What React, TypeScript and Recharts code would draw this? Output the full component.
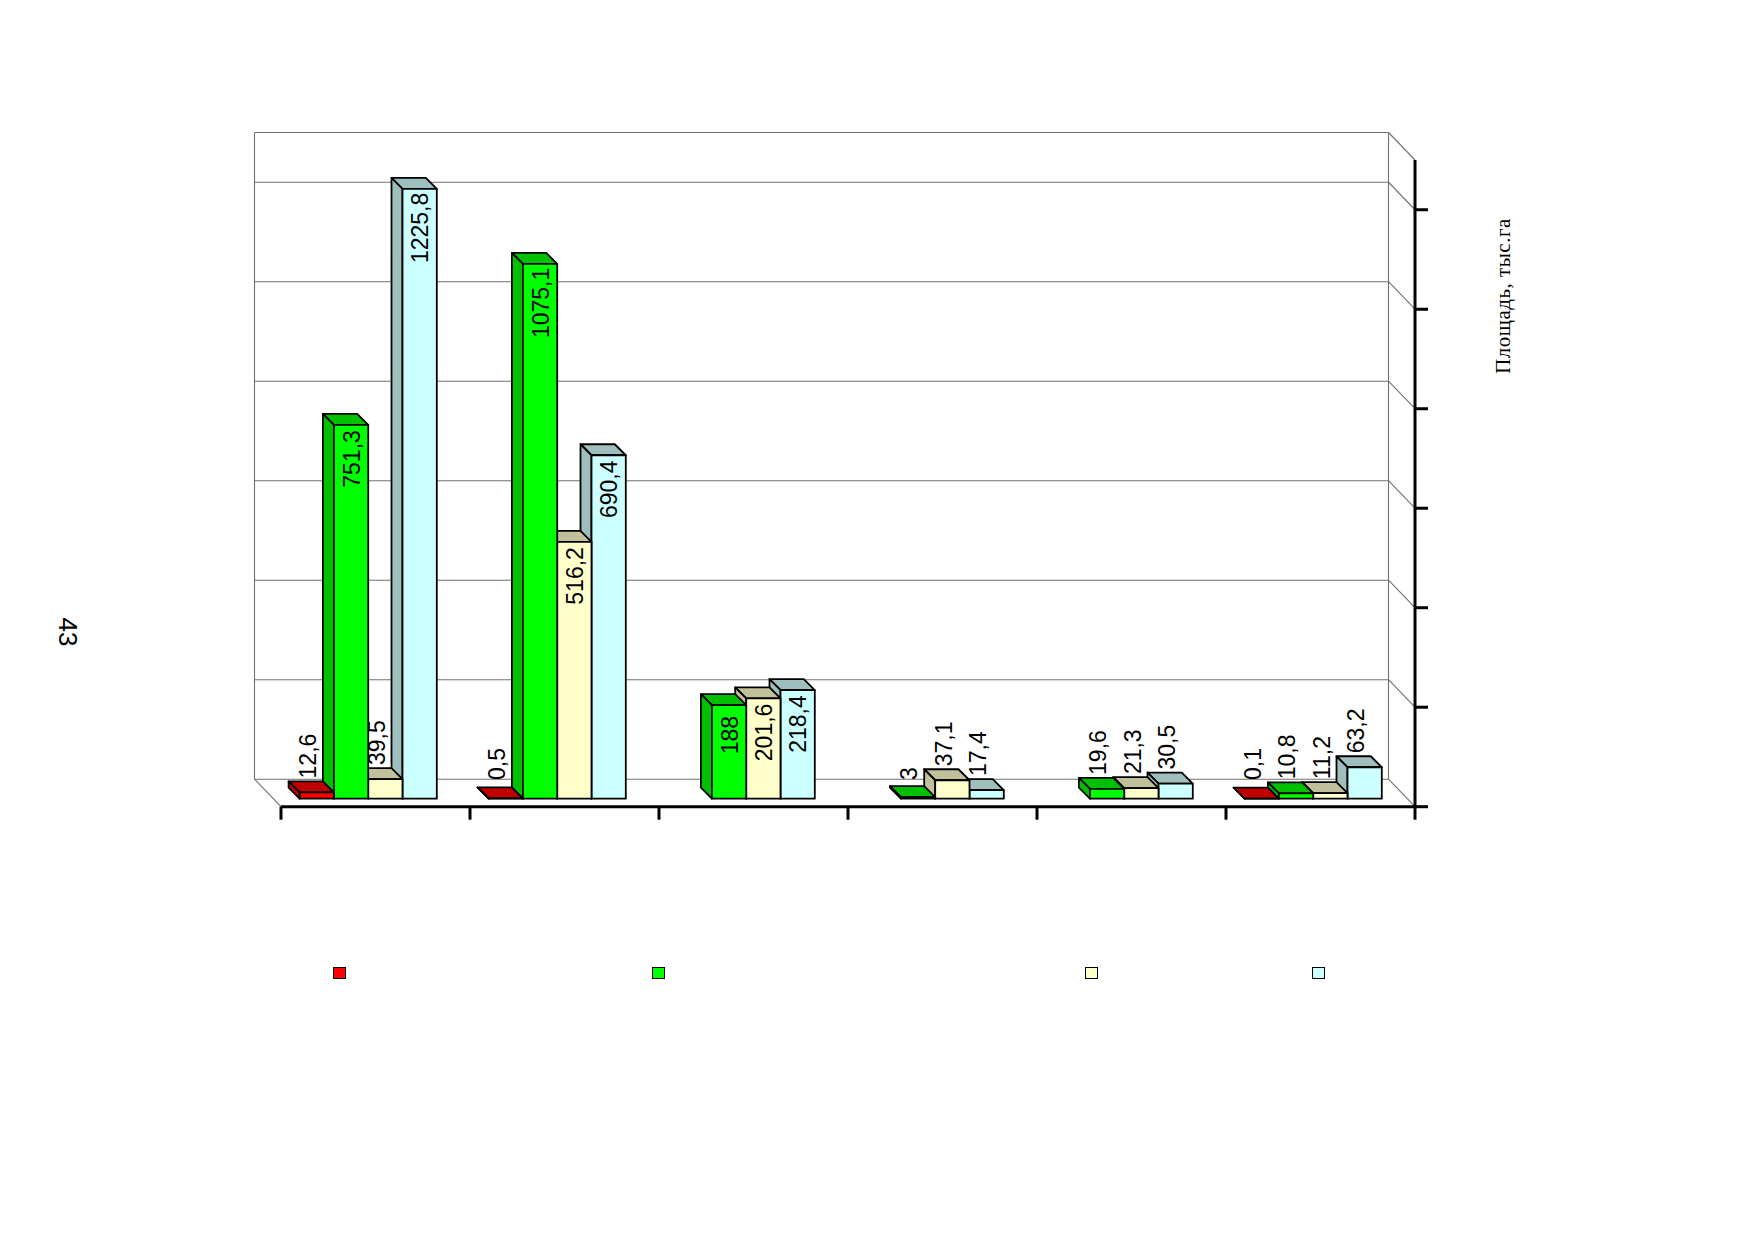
import React from "react";
import { BarChart, Bar, XAxis, YAxis, CartesianGrid, Legend, LabelList } from "recharts";

const categories = ["1", "2", "3", "4", "5", "6"];
const series1 = [12.6, 0.5, null, null, null, 0.1];
const series2 = [751.3, 1075.1, 188, 3, 19.6, 10.8];
const series3 = [39.5, 516.2, 201.6, 37.1, 21.3, 11.2];
const series4 = [1225.8, 690.4, 218.4, 17.4, 30.5, 63.2];
const yTicks = [0, 200, 400, 600, 800, 1000, 1200];
const gridValues = [0, 200, 400, 600, 800, 1000, 1200, 1300];
const Y_MAX = 1300;

const data = categories.map((c, i) => ({
  c, s1: series1[i], s2: series2[i], s3: series3[i], s4: series4[i],
}));

const seriesDefs = [
  { key: "s1", front: "#FF0000", dark: "#C00000", legendX: 333 },
  { key: "s2", front: "#00FF00", dark: "#00C000", legendX: 652 },
  { key: "s3", front: "#FFFFCC", dark: "#C0C09A", legendX: 1085 },
  { key: "s4", front: "#CCFFFF", dark: "#9FBFBF", legendX: 1312 },
];
// drawn right to left so that each bar's face hides its right neighbour's side
const drawOrder = [...seriesDefs].reverse();

const SHIFT_X = 7.5;
const SHIFT_Y = 8;
const DEPTH = 11;
const WALL_X = 26.5;
const WALL_Y = 27.5;
const GRID = "#707070";
const FS = 23;
const TICK = 13;

const make3D = (front: string, dark: string) => (p: any) => {
  const { x, y, width, height } = p;
  if (width == null || height == null) return <g />;
  const x0 = x - SHIFT_X, y0 = y - SHIFT_Y, x1 = x0 + width, y1 = y0 + height;
  return (
    <g stroke="#000" strokeWidth={1.8} strokeLinejoin="round">
      <polygon fill={dark} points={`${x0},${y0} ${x0 - DEPTH},${y0 - DEPTH} ${x1 - DEPTH},${y0 - DEPTH} ${x1},${y0}`} />
      <polygon fill={dark} points={`${x0},${y0} ${x0 - DEPTH},${y0 - DEPTH} ${x0 - DEPTH},${y1 - DEPTH} ${x0},${y1}`} />
      <rect x={x0} y={y0} width={width} height={height} fill={front} />
    </g>
  );
};

const valueLabel = (p: any) => {
  const { x, y, width, value } = p;
  if (value == null) return <g />;
  const txt = String(value).replace(".", ",");
  const x0 = x - SHIFT_X, y0 = y - SHIFT_Y;
  const inside = value >= 150;
  const cx = inside ? x0 + width / 2 + 0.5 : x0 + width / 2 - 9;
  const baseX = cx + FS * 0.36;
  const pos = inside ? y0 + (txt.length === 6 ? 39 : 24 + 2 * txt.length) : Math.min(y0 - DEPTH - 3, 780);
  return (
    <text
      x={baseX}
      y={pos}
      transform={`rotate(-90 ${baseX} ${pos})`}
      textAnchor={inside ? "middle" : "start"}
      fontFamily="'Liberation Sans', Arial, sans-serif"
      fontSize={FS}
      fill="#000"
    >
      {txt}
    </text>
  );
};

const hLine = (p: any) => {
  const { x1, x2, y1, index } = p;
  const yb = y1 - WALL_Y;
  return (
    <g stroke={GRID} strokeWidth={1.1} key={`h${index}`}>
      <line x1={x1 - WALL_X} x2={x2 - WALL_X} y1={yb} y2={yb} />
      <line x1={x2 - WALL_X} x2={x2} y1={yb} y2={y1} />
      {y1 > 800 ? <line x1={x1 - WALL_X} x2={x1} y1={yb} y2={y1} /> : null}
    </g>
  );
};

const vLine = (p: any) => {
  const { x1, y1, y2, index } = p;
  return <line key={`v${index}`} stroke={GRID} strokeWidth={1.1} x1={x1 - WALL_X} x2={x1 - WALL_X} y1={y1 - WALL_Y} y2={y2 - WALL_Y} />;
};

// Ticks sit on the category boundaries: one at each band's left edge, plus the closing one.
const xTick = (p: any) => {
  const band = p.width / categories.length;
  const left = p.x - band / 2;
  const edges = p.index === categories.length - 1 ? [left, left + band] : [left];
  return (
    <g stroke="#000" strokeWidth={3}>
      {edges.map((e) => (
        <line key={e} x1={e} x2={e} y1={p.y} y2={p.y + TICK} />
      ))}
    </g>
  );
};
const yTick = (p: any) => <line x1={p.x} x2={p.x + TICK} y1={p.y} y2={p.y} stroke="#000" strokeWidth={3} />;

const legendContent = () => (
  <div style={{ position: "relative", height: 0, width: 0 }}>
    {seriesDefs.map((s) => (
      <span
        key={s.key}
        style={{
          position: "absolute",
          left: s.legendX,
          top: 966.5,
          width: 10.5,
          height: 10.5,
          background: s.front,
          border: "1.5px solid #000",
          display: "block",
        }}
      />
    ))}
  </div>
);

export default function App() {
  return (
    <div style={{ position: "absolute", left: 0, top: 0, width: 1754, height: 1239, background: "#fff", overflow: "hidden" }}>
      <BarChart
        width={1754}
        height={1239}
        data={data}
        margin={{ left: 281, right: 338, top: 160, bottom: 431.3 }}
        barSize={34.3}
        barGap={-68.6}
      >
        <CartesianGrid
          horizontal={hLine}
          vertical={vLine}
          horizontalCoordinatesGenerator={({ offset }: any) =>
            gridValues.map((v) => offset.top + offset.height * (1 - v / Y_MAX))
          }
          verticalCoordinatesGenerator={({ offset }: any) => [offset.left, offset.left + offset.width]}
          syncWithTicks={false}
        />
        <XAxis
          dataKey="c"
          height={1}
          tick={xTick}
          tickSize={0}
          tickMargin={0}
          tickLine={false}
          axisLine={{ stroke: "#000", strokeWidth: 3 }}
          interval={0}
        />
        <YAxis
          orientation="right"
          width={1}
          domain={[0, Y_MAX]}
          ticks={yTicks}
          tick={yTick}
          tickSize={0}
          tickMargin={0}
          tickLine={false}
          axisLine={{ stroke: "#000", strokeWidth: 3 }}
          allowDataOverflow
          interval={0}
        />
        {drawOrder.map((s) => (
          <Bar key={s.key} dataKey={s.key} isAnimationActive={false} shape={make3D(s.front, s.dark)}>
            <LabelList dataKey={s.key} content={valueLabel} />
          </Bar>
        ))}
        <Legend
          content={legendContent}
          wrapperStyle={{ left: 0, top: 0, bottom: "auto", width: 0, height: 0 }}
        />
      </BarChart>
      <div style={{ position: "absolute", left: 1503, top: 295.5, transform: "translate(-50%,-50%) rotate(-90deg)", fontFamily: "'Liberation Serif', serif", fontSize: 21, letterSpacing: 0.5, whiteSpace: "nowrap", color: "#000" }}>
        Площадь, тыс.га
      </div>
      <div style={{ position: "absolute", left: 66.5, top: 632, transform: "translate(-50%,-50%) rotate(90deg)", fontFamily: "'Liberation Sans', sans-serif", fontSize: 26, whiteSpace: "nowrap", color: "#000" }}>
        43
      </div>
    </div>
  );
}
